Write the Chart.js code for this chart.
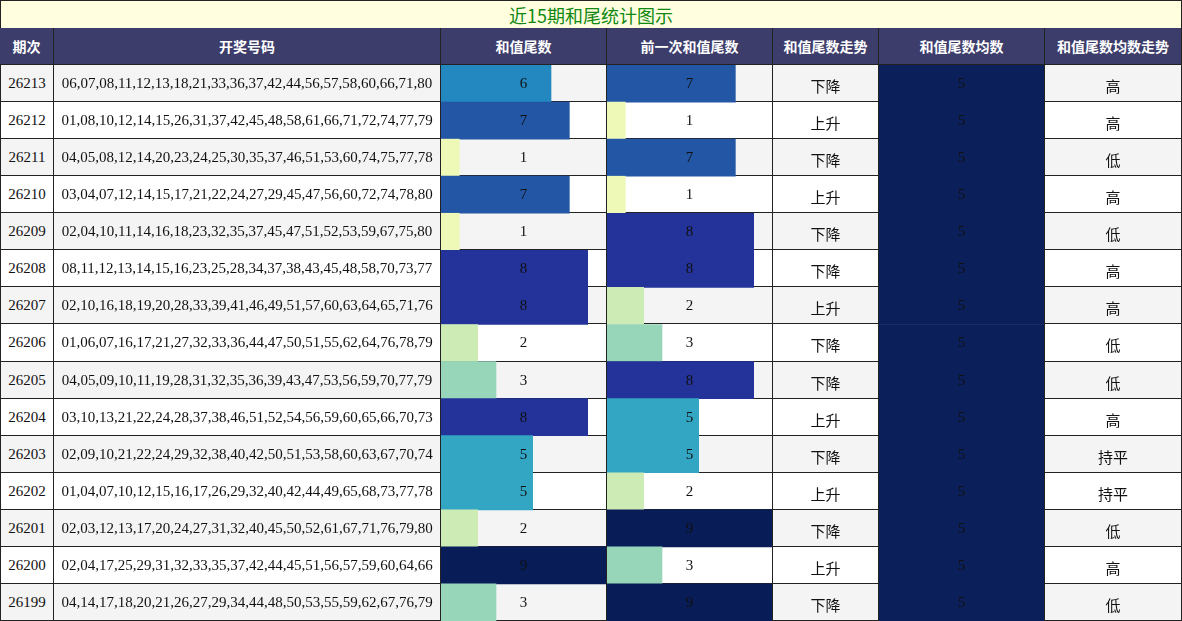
<!DOCTYPE html>
<html><head><meta charset="utf-8">
<script src="https://cdn.jsdelivr.net/npm/chart.js@4"></script>
<style>
body{margin:0;width:1182px;height:621px;overflow:hidden;background:#fff;font-family:"Liberation Serif","Noto Sans CJK SC",serif}
.c{position:absolute;box-sizing:border-box;border-right:1px solid #222;border-bottom:1px solid #222;display:flex;align-items:center;justify-content:center;font-size:15px;color:#111}
.h{background:#3d3d6b;color:#fff;font-weight:bold;font-family:"Noto Sans CJK SC",sans-serif;font-size:14px}
.t{position:relative;z-index:2}
.cv{position:absolute;z-index:1;pointer-events:none}
</style></head><body>
<div id="root"></div>
<script>
// data
const periods = ['26213','26212','26211','26210','26209','26208','26207','26206','26205','26204','26203','26202','26201','26200','26199'];
const draws = [
  '06,07,08,11,12,13,18,21,33,36,37,42,44,56,57,58,60,66,71,80',
  '01,08,10,12,14,15,26,31,37,42,45,48,58,61,66,71,72,74,77,79',
  '04,05,08,12,14,20,23,24,25,30,35,37,46,51,53,60,74,75,77,78',
  '03,04,07,12,14,15,17,21,22,24,27,29,45,47,56,60,72,74,78,80',
  '02,04,10,11,14,16,18,23,32,35,37,45,47,51,52,53,59,67,75,80',
  '08,11,12,13,14,15,16,23,25,28,34,37,38,43,45,48,58,70,73,77',
  '02,10,16,18,19,20,28,33,39,41,46,49,51,57,60,63,64,65,71,76',
  '01,06,07,16,17,21,27,32,33,36,44,47,50,51,55,62,64,76,78,79',
  '04,05,09,10,11,19,28,31,32,35,36,39,43,47,53,56,59,70,77,79',
  '03,10,13,21,22,24,28,37,38,46,51,52,54,56,59,60,65,66,70,73',
  '02,09,10,21,22,24,29,32,38,40,42,50,51,53,58,60,63,67,70,74',
  '01,04,07,10,12,15,16,17,26,29,32,40,42,44,49,65,68,73,77,78',
  '02,03,12,13,17,20,24,27,31,32,40,45,50,52,61,67,71,76,79,80',
  '02,04,17,25,29,31,32,33,35,37,42,44,45,51,56,57,59,60,64,66',
  '04,14,17,18,20,21,26,27,29,34,44,48,50,53,55,59,62,67,76,79'];
const sumTail = [6,7,1,7,1,8,8,2,3,8,5,5,2,9,3];
const prevTail = [7,1,7,1,8,8,2,3,8,5,5,2,9,3,9];
const trend = ['下降','上升','下降','上升','下降','下降','上升','下降','下降','上升','下降','上升','下降','上升','下降'];
const meanTail = [5,5,5,5,5,5,5,5,5,5,5,5,5,5,5];
const meanTrend = ['高','高','低','高','低','高','高','低','低','高','持平','持平','低','高','低'];
const headers = ['期次','开奖号码','和值尾数','前一次和值尾数','和值尾数走势','和值尾数均数','和值尾数均数走势'];

const palette = {1:'#eff9b7',2:'#cdebb4',3:'#97d6b9',5:'#33a6c4',6:'#2388bf',7:'#2356a5',8:'#23339a',9:'#081d58'};
const xs = [0,54,441,607,773,879,1045,1182];
const top0 = 65, rowH = (621 - top0) / 15;
const root = document.getElementById('root');

function cell(x0, x1, y0, h, text, cls, bg) {
  const d = document.createElement('div');
  d.className = 'c ' + (cls || '');
  d.style.cssText += `left:${x0}px;top:${y0}px;width:${x1 - x0}px;height:${h}px;` + (bg ? `background:${bg};` : '');
  const s = document.createElement('span');
  s.className = 't'; s.textContent = text;
  d.appendChild(s); root.appendChild(d);
  return d;
}
const title = cell(0, 1182, 0, 29, '近15期和尾统计图示', '', '#ffffe0');
title.style.color = '#118811'; title.style.fontSize = '18px';
title.style.fontFamily = '"Noto Sans CJK SC",sans-serif';
title.style.borderLeft = '1px solid #222'; title.style.borderTop = '1px solid #222';
headers.forEach((h, j) => cell(xs[j], xs[j + 1], 28, 37, h, 'h'));

periods.forEach((p, i) => {
  const y = Math.round(top0 + i * rowH), h = Math.round(top0 + (i + 1) * rowH) - y;
  const bg = i % 2 === 0 ? '#f4f4f4' : '#ffffff';
  const vals = [p, draws[i], sumTail[i], prevTail[i], trend[i], meanTail[i], meanTrend[i]];
  vals.forEach((v, j) => {
    const d = cell(xs[j], xs[j + 1], y, h, String(v), '', bg);
    if (j === 0) d.style.borderLeft = '1px solid #222';
    if (j === 4 || j === 6) d.style.paddingTop = '4px';
  });
});

function barColumn(col, data, max, colorFn) {
  const cv = document.createElement('canvas');
  cv.className = 'cv';
  cv.style.left = xs[col] + 'px'; cv.style.top = top0 + 'px';
  cv.width = xs[col + 1] - xs[col] - 1; cv.height = 621 - top0;
  cv.style.width = cv.width + 'px'; cv.style.height = cv.height + 'px';
  root.appendChild(cv);
  new Chart(cv, {
    type: 'bar',
    data: { labels: periods, datasets: [{ data: data, backgroundColor: data.map(colorFn),
      barPercentage: 1, categoryPercentage: 1, borderWidth: 0 }] },
    options: {
      indexAxis: 'y', responsive: false, animation: false,
      layout: { padding: 0 },
      plugins: { legend: { display: false }, tooltip: { enabled: false } },
      scales: { x: { display: false, min: 0, max: max }, y: { display: false } }
    }
  });
}
barColumn(2, sumTail, 9, v => palette[v]);
barColumn(3, prevTail, 9, v => palette[v]);
barColumn(5, meanTail, 5, () => '#0b1f5a');
</script>
</body></html>
